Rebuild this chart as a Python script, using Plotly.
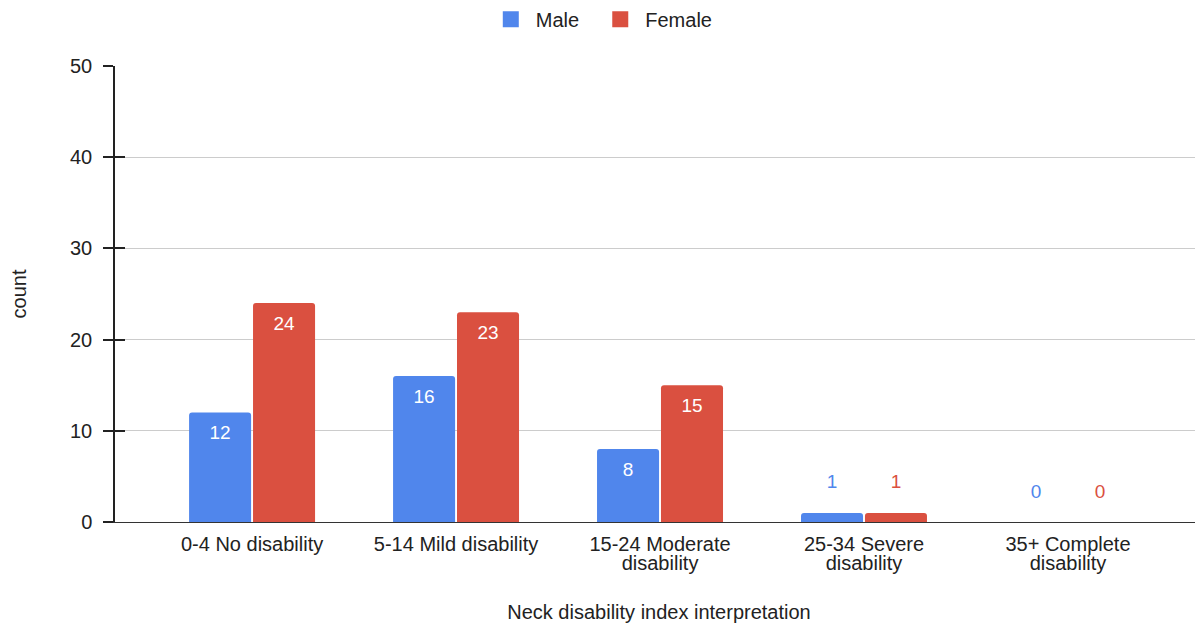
import plotly.graph_objects as go

categories = ["0-4 No disability", "5-14 Mild disability", "15-24 Moderate disability",
              "25-34 Severe disability", "35+ Complete disability"]
tick_line1 = ["0-4 No disability", "5-14 Mild disability", "15-24 Moderate",
              "25-34 Severe", "35+ Complete"]
tick_line2 = ["", "", "disability", "disability", "disability"]
male = [12, 16, 8, 1, 0]
female = [24, 23, 15, 1, 0]
y_ticks = [0, 10, 20, 30, 40, 50]

BLUE = "#5086EC"
RED = "#DA5040"
FONT = "Arial, Liberation Sans, sans-serif"
TXT = "#222222"
XRANGE = [-0.672, 4.662]
NB = "\u00a0"

fig = go.Figure()
for name, vals, col in [("Male", male, BLUE), ("Female", female, RED)]:
    fig.add_trace(go.Bar(
        name=name, x=categories, y=vals, showlegend=False, offsetgroup=name,
        marker=dict(color=col, cornerradius=3, line=dict(width=0)),
        hoverinfo="x+y",
    ))

for name, vals, col in [("Male", male, BLUE), ("Female", female, RED)]:
    inside = [v >= 3 for v in vals]
    fig.add_trace(go.Scatter(
        x=categories, y=vals, mode="markers+text", offsetgroup=name,
        text=[str(v) for v in vals],
        textposition=["bottom center" if i else "top center" for i in inside],
        textfont=dict(color=["white" if i else col for i in inside], size=19, family=FONT),
        marker=dict(size=[18 if i else 30 for i in inside], opacity=0),
        showlegend=False, hoverinfo="skip", cliponaxis=False,
    ))

for name, col in [("Male", BLUE), ("Female", RED)]:
    # legend entry with a larger square symbol
    fig.add_trace(go.Scatter(
        name=name + NB * 2, x=[None], y=[None], mode="markers",
        marker=dict(symbol="square", size=17, color=col), showlegend=True,
        hoverinfo="skip",
    ))

# second-line tick labels and inner tick marks
fig.add_trace(go.Scatter(x=[0], y=[0], xaxis="x2", yaxis="y2", mode="markers",
                         marker=dict(opacity=0), showlegend=False, hoverinfo="skip"))

fig.update_layout(
    width=1195, height=619,
    margin=dict(l=107, r=0, t=58, b=105, autoexpand=False),
    paper_bgcolor="white", plot_bgcolor="white",
    font=dict(family=FONT, size=20, color=TXT),
    barmode="group", bargap=0.373, bargroupgap=0.03,
    scattermode="group", scattergap=0.373,
    showlegend=True,
    legend=dict(orientation="h", x=0.5015, xanchor="center", xref="container",
                y=0.982, yanchor="middle", yref="container",
                font=dict(size=20, color=TXT), itemwidth=40,
                traceorder="normal"),
    xaxis=dict(range=XRANGE, showgrid=False, showline=True, linecolor="#333333",
               linewidth=1, ticks="", tickfont=dict(size=20, color=TXT),
               tickmode="array", tickvals=categories, ticktext=tick_line1,
               ticklabelstandoff=4, automargin=False,
               title=dict(text="Neck disability index interpretation", standoff=50,
                          font=dict(size=20, color=TXT))),
    xaxis2=dict(range=XRANGE, overlaying="x", side="bottom", showgrid=False,
                showline=False, zeroline=False, ticks="", tickmode="array",
                tickvals=list(range(len(categories))), ticktext=tick_line2,
                tickfont=dict(size=20, color=TXT), ticklabelstandoff=27,
                automargin=False),
    yaxis=dict(range=[0, 50], tickvals=y_ticks, showgrid=True, gridcolor="#cccccc",
               gridwidth=1, showline=True, linecolor=TXT, linewidth=1.5,
               ticks="outside", ticklen=10, tickcolor=TXT, tickwidth=1.5,
               tickfont=dict(size=20, color=TXT), zeroline=False,
               ticklabelstandoff=7, automargin=False,
               title=dict(text="count", standoff=47, font=dict(size=20, color=TXT))),
    yaxis2=dict(range=[0, 50], tickvals=y_ticks, overlaying="y", side="left",
                showgrid=False, ticks="inside", ticklen=10, tickcolor=TXT,
                tickwidth=1.5, showticklabels=False, showline=False, zeroline=False,
                automargin=False),
)

fig.write_html("out.html")
